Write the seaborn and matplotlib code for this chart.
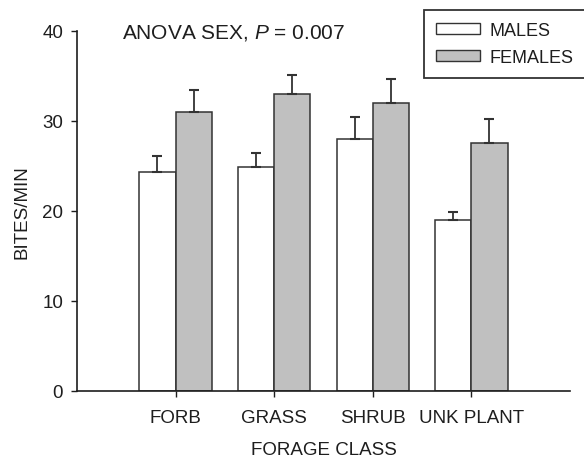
import pandas as pd
import matplotlib
matplotlib.use("Agg")
import matplotlib.pyplot as plt
import seaborn as sns
from matplotlib.patches import Patch

# --- data ---
forage_classes = ["FORB", "GRASS", "SHRUB", "UNK PLANT"]
males_mean = [24.3, 24.9, 28.0, 19.0]
males_se = [1.8, 1.5, 2.4, 0.9]
females_mean = [31.0, 33.0, 32.0, 27.6]
females_se = [2.4, 2.1, 2.7, 2.6]
sexes = ["MALES", "FEMALES"]
bar_colors = ["white", "#c0c0c0"]
INK = "#1e1e1e"


def make_plot():
    sns.set_style("ticks")
    plt.rcParams["font.family"] = ["Liberation Sans", "DejaVu Sans"]
    plt.rcParams["mathtext.fontset"] = "custom"
    plt.rcParams["mathtext.rm"] = "Liberation Sans"
    plt.rcParams["mathtext.it"] = "Liberation Sans:italic"
    plt.rcParams["text.color"] = INK
    plt.rcParams["axes.labelcolor"] = INK

    df = pd.DataFrame({
        "cls": forage_classes * 2,
        "val": males_mean + females_mean,
        "sex": [sexes[0]] * 4 + [sexes[1]] * 4,
    })
    errs = {sexes[0]: males_se, sexes[1]: females_se}

    fig = plt.figure(figsize=(5.84, 4.64), dpi=100)
    ax = fig.add_axes([0.1318, 0.1552, 0.8442, 0.7759])

    sns.barplot(data=df, x="cls", y="val", hue="sex", order=forage_classes,
                hue_order=sexes, palette=bar_colors, width=0.735,
                edgecolor="#333333", linewidth=1.1, errorbar=None,
                legend=False, ax=ax)

    # one-sided error bars (upper only)
    for cont, sex in zip(ax.containers, sexes):
        xs = [b.get_x() + b.get_width() / 2 for b in cont]
        hs = [b.get_height() for b in cont]
        ax.errorbar(xs, hs, yerr=[[0] * len(hs), errs[sex]], fmt="none",
                    ecolor="#333333", elinewidth=1.3, capsize=3.3,
                    capthick=1.5)

    ax.set_xlim(-1.0, 4.0)
    ax.set_ylim(0, 40)
    ax.set_yticks([0, 10, 20, 30, 40])
    ax.set_xlabel("FORAGE CLASS", fontsize=13.5, labelpad=11)
    ax.set_ylabel("BITES/MIN", fontsize=13.5, labelpad=8)
    ax.tick_params(labelsize=13.5, length=4, width=1, color=INK,
                   labelcolor=INK)
    ax.tick_params(axis="x", pad=9)
    ax.tick_params(axis="y", pad=6)
    sns.despine(ax=ax)
    for s in ["left", "bottom"]:
        ax.spines[s].set_color(INK)
        ax.spines[s].set_linewidth(1.2)

    fig.text(0.209, 0.916, "ANOVA SEX, $\\it{P}$ = 0.007", fontsize=15,
             va="baseline", ha="left")

    handles = [Patch(facecolor=c, edgecolor="#333333", linewidth=1.0)
               for c in bar_colors]
    leg = fig.legend(handles, sexes, loc="upper left",
                     bbox_to_anchor=(0.726, 0.976), borderaxespad=0,
                     frameon=True, fancybox=False, edgecolor="black",
                     fontsize=13, handlelength=2.45, handleheight=0.5,
                     handletextpad=0.55, labelspacing=0.55, borderpad=0.65)
    leg.get_frame().set_linewidth(1.3)

    fig.savefig("out.png", dpi=100)
    plt.close(fig)


if __name__ == "__main__":
    make_plot()
